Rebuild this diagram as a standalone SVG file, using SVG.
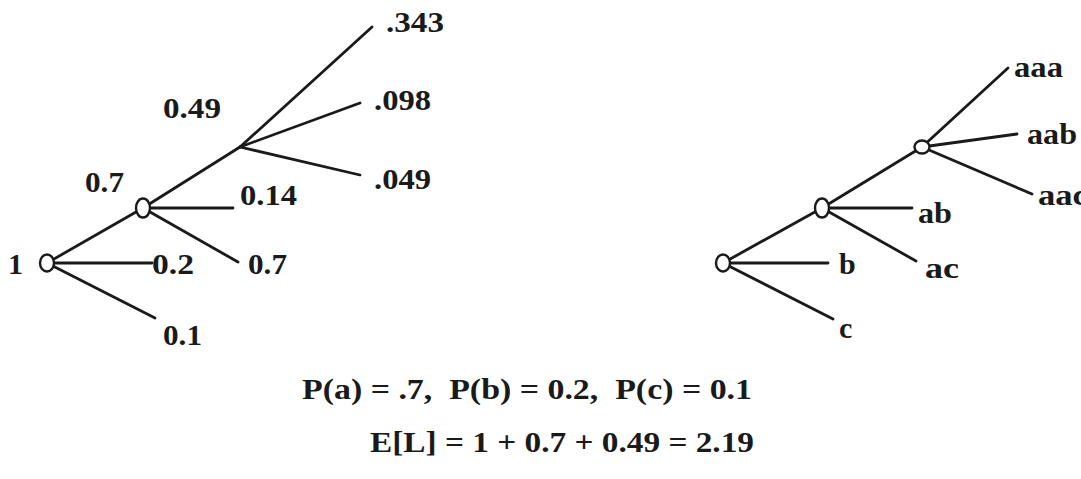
<svg xmlns="http://www.w3.org/2000/svg" width="1081" height="479" viewBox="0 0 1081 479">
<style>
.e{stroke:#1a1a1a;stroke-width:2.8;fill:none;stroke-linecap:round}
.n{stroke:#1a1a1a;stroke-width:2.4;fill:#fff}
text{font-family:"Liberation Serif","Times New Roman",serif;font-weight:700;font-size:30px;fill:#1a1a1a}
</style>
<rect width="1081" height="479" fill="#fff"/>
<g id="connectors">
<line class="e" x1="47" y1="263" x2="143" y2="208"/>
<line class="e" x1="47" y1="263" x2="152" y2="263"/>
<line class="e" x1="47" y1="263" x2="155" y2="318"/>
<line class="e" x1="143" y1="208" x2="233" y2="208"/>
<line class="e" x1="143" y1="208" x2="238" y2="262"/>
<line class="e" x1="143" y1="208" x2="240" y2="147"/>
<line class="e" x1="240" y1="147" x2="372" y2="27"/>
<line class="e" x1="240" y1="147" x2="360" y2="103"/>
<line class="e" x1="240" y1="147" x2="360" y2="175"/>
<line class="e" x1="723" y1="263" x2="822" y2="208"/>
<line class="e" x1="723" y1="263" x2="828" y2="263"/>
<line class="e" x1="723" y1="263" x2="833" y2="319"/>
<line class="e" x1="822" y1="208" x2="912" y2="208"/>
<line class="e" x1="822" y1="208" x2="916" y2="261"/>
<line class="e" x1="822" y1="208" x2="922" y2="147"/>
<line class="e" x1="922" y1="147" x2="1008" y2="68"/>
<line class="e" x1="922" y1="147" x2="1017" y2="134"/>
<line class="e" x1="922" y1="147" x2="1032" y2="194"/>
</g>
<g id="left-root"><ellipse class="n" cx="47" cy="263" rx="7" ry="8.5"/><text x="8" y="274">1</text></g>
<g id="left-a"><ellipse class="n" cx="143" cy="208" rx="7" ry="9.5"/><text x="85" y="192" textLength="39" lengthAdjust="spacingAndGlyphs">0.7</text></g>
<g id="left-aa"><text x="163" y="118" textLength="58" lengthAdjust="spacingAndGlyphs">0.49</text></g>
<g id="left-aaa"><text x="386" y="32" textLength="58" lengthAdjust="spacingAndGlyphs">.343</text></g>
<g id="left-aab"><text x="374" y="110" textLength="57" lengthAdjust="spacingAndGlyphs">.098</text></g>
<g id="left-aac"><text x="374" y="189" textLength="57" lengthAdjust="spacingAndGlyphs">.049</text></g>
<g id="left-ab"><text x="240" y="205" textLength="57" lengthAdjust="spacingAndGlyphs">0.14</text></g>
<g id="left-ac"><text x="248" y="274" textLength="39" lengthAdjust="spacingAndGlyphs">0.7</text></g>
<g id="left-b"><text x="152" y="274" textLength="42" lengthAdjust="spacingAndGlyphs">0.2</text></g>
<g id="left-c"><text x="163" y="345" textLength="39" lengthAdjust="spacingAndGlyphs">0.1</text></g>
<g id="right-root"><ellipse class="n" cx="723" cy="263" rx="7" ry="8.5"/></g>
<g id="right-a"><ellipse class="n" cx="822" cy="208" rx="7" ry="9.5"/></g>
<g id="right-aa"><ellipse class="n" cx="922" cy="147" rx="7.5" ry="6.5"/></g>
<g id="right-b"><text x="839" y="274">b</text></g>
<g id="right-c"><text x="839" y="338">c</text></g>
<g id="right-ab"><text x="918" y="223" textLength="34" lengthAdjust="spacingAndGlyphs">ab</text></g>
<g id="right-ac"><text x="925" y="278" textLength="34" lengthAdjust="spacingAndGlyphs">ac</text></g>
<g id="right-aaa"><text x="1014" y="77" textLength="49" lengthAdjust="spacingAndGlyphs">aaa</text></g>
<g id="right-aab"><text x="1027" y="144" textLength="50" lengthAdjust="spacingAndGlyphs">aab</text></g>
<g id="right-aac"><text x="1038" y="205" textLength="50" lengthAdjust="spacingAndGlyphs">aac</text></g>
<g id="formulas">
<text x="302" y="399" textLength="450" lengthAdjust="spacingAndGlyphs" xml:space="preserve">P(a) = .7,  P(b) = 0.2,  P(c) = 0.1</text>
<text x="370" y="452" textLength="384" lengthAdjust="spacingAndGlyphs">E[L] = 1 + 0.7 + 0.49 = 2.19</text>
</g>
</svg>
